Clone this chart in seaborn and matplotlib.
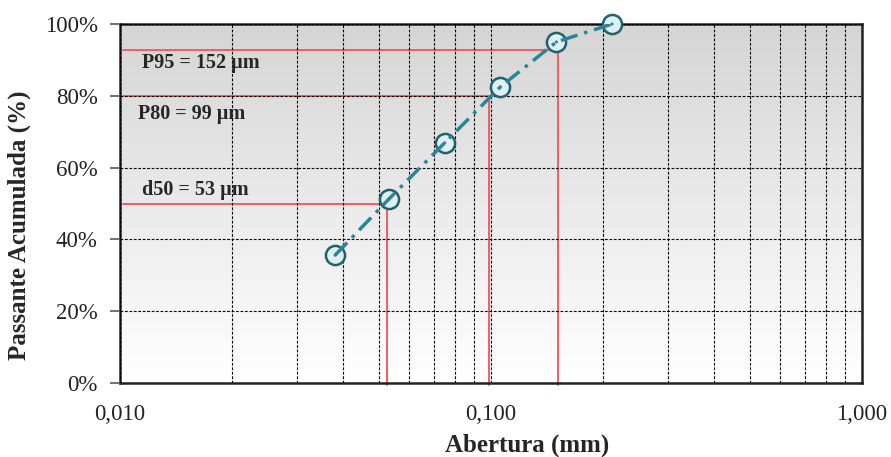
# Curva granulométrica: passante acumulado vs abertura de peneira (escala log).

import seaborn as sns
import pandas as pd
import matplotlib.pyplot as plt
from matplotlib.ticker import FixedLocator, FuncFormatter, LogLocator
import numpy as np

sns.set_theme(style="white")
plt.rcParams['font.family'] = ['Liberation Serif', 'DejaVu Serif']

# Aberturas das peneiras (mm) e passante acumulado (%).
abertura = [0.038, 0.053, 0.075, 0.106, 0.150, 0.212]
passante = [35.6, 51.2, 66.9, 82.5, 95.0, 100.0]

# Tamanhos característicos: rótulo, abertura (mm), passante (%) da linha guia.
marcos_rotulo = ["d50 = 53 µm", "P80 = 99 µm", "P95 = 152 µm"]
marcos_x = [0.0525, 0.099, 0.152]
marcos_y = [50.0, 80.0, 92.8]
rotulo_x = [0.01146, 0.01118, 0.01146]
rotulo_y = [53.8, 74.9, 89.1]

x_ticks = [0.01, 0.1, 1.0]
y_ticks = [0, 20, 40, 60, 80, 100]

df = pd.DataFrame({"abertura": abertura, "passante": passante})

fig = plt.figure(figsize=(8.91, 4.57), dpi=100)
ax = fig.add_axes([0.1347, 0.1619, 0.8328, 0.7856])

# Fundo em degradê (cinza em cima, branco em baixo).
grad = np.linspace(0.835, 1.0, 256)[:, None] * np.ones((1, 3))
ax.imshow(grad[:, None, :], extent=[0, 1, 0, 1], transform=ax.transAxes,
          aspect="auto", zorder=0)

ax.set_xscale("log")
ax.set_xlim(0.01, 1.0)
ax.set_ylim(0, 100)

# Grade tracejada preta (maior e menor no eixo x).
ax.xaxis.set_major_locator(FixedLocator(x_ticks))
ax.xaxis.set_minor_locator(LogLocator(base=10, subs=np.arange(2, 10)))
ax.yaxis.set_major_locator(FixedLocator(y_ticks))
ax.grid(which="both", axis="x", color="black", linestyle=(0, (2.5, 1.5)), linewidth=0.8, zorder=1)
ax.grid(which="major", axis="y", color="black", linestyle=(0, (2.5, 1.5)), linewidth=0.8, zorder=1)
ax.set_axisbelow(False)

# Linhas guia vermelhas.
for lbl, xm, ym, lx, ly in zip(marcos_rotulo, marcos_x, marcos_y, rotulo_x, rotulo_y):
    ax.plot([0.0102, xm], [ym, ym], color="#ef5f5f", lw=1.4, zorder=2)
    ax.plot([xm, xm], [ym, -0.5], color="#ef5f5f", lw=1.4, zorder=2, clip_on=False)
    ax.text(lx, ly, lbl, fontsize=14.5, fontweight="bold", ha="left", va="center", zorder=5)

# Pontos e linha traço-ponto.
sns.scatterplot(data=df, x="abertura", y="passante", ax=ax, s=190, marker="o",
                color="#dcf0f6", edgecolor="#22606e", linewidth=1.8, zorder=3, clip_on=False)
sns.lineplot(data=df, x="abertura", y="passante", ax=ax, color="#2b8497", lw=2.5,
             linestyle=(0, (5, 2, 1, 2)), zorder=4)
sns.scatterplot(data=df, x="abertura", y="passante", ax=ax, s=5, color="#2b8497",
                edgecolor="none", zorder=4, clip_on=False)

ax.xaxis.set_major_formatter(FuncFormatter(lambda v, p: f"{v:.3f}".replace(".", ",")))
ax.xaxis.set_minor_formatter(FuncFormatter(lambda v, p: ""))
ax.yaxis.set_major_formatter(FuncFormatter(lambda v, p: f"{v:.0f}%"))

ax.tick_params(axis="x", which="both", length=0, pad=15, labelsize=16.5, colors="#222222")
ax.tick_params(axis="y", length=7, width=1.2, pad=9, labelsize=16.5, colors="#555555",
               labelcolor="#222222", left=True)

for s in ax.spines.values():
    s.set_visible(True)
    s.set_color("#222222")
    s.set_linewidth(1.8)

ax.set_xlabel("Abertura (mm)", fontsize=18, fontweight="bold")
ax.set_ylabel("Passante Acumulada (%)", fontsize=18, fontweight="bold")
ax.xaxis.set_label_coords(0.548, -0.14)
ax.yaxis.set_label_coords(-0.12, 0.44)

plt.savefig("out.png", dpi=100)
